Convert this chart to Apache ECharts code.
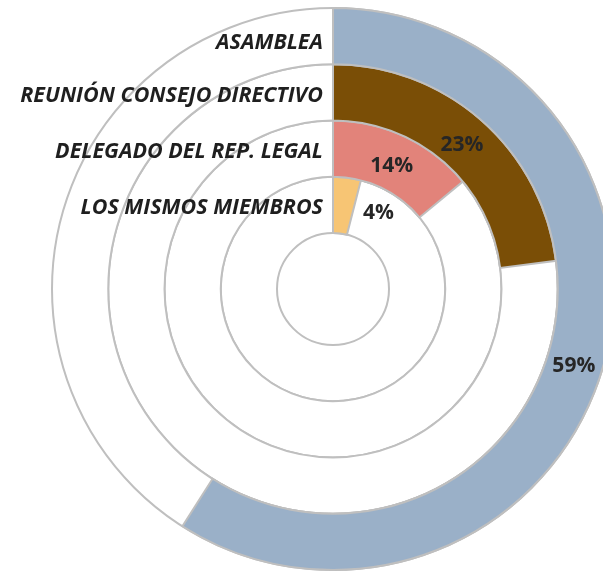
<!DOCTYPE html>
<html>
<head>
<meta charset="utf-8">
<script src="https://cdn.jsdelivr.net/npm/echarts@6/dist/echarts.min.js"></script>
<style>
  html, body { margin: 0; padding: 0; background: #fff; }
  #chart { width: 603px; height: 575px; }
</style>
</head>
<body>
<div id="chart"></div>
<script>
// rings from inside to outside
const categories = ["LOS MISMOS MIEMBROS", "DELEGADO DEL REP. LEGAL", "REUNIÓN CONSEJO DIRECTIVO", "ASAMBLEA"];
const values = [4, 14, 23, 59];
const colors = ["#F7C574", "#E2837A", "#7A4E06", "#9AB0C8"];

const chart = echarts.init(document.getElementById("chart"));

const catFont = {
    fontFamily: "'Open Sans', sans-serif",
    fontStyle: "italic",
    fontWeight: "bold",
    fontSize: 21.5,
    color: "#1f1f1f"
};

chart.setOption({
    animation: false,
    polar: { center: [333, 289], radius: [56, 281] },
    angleAxis: {
        type: "value", min: 0, max: 100, startAngle: 90, clockwise: true,
        axisLine: { show: false }, axisTick: { show: false }, axisLabel: { show: false }, splitLine: { show: false }
    },
    radiusAxis: {
        type: "category",
        data: categories,
        axisLine: { show: false },
        axisTick: { show: false },
        splitLine: { show: false },
        z: 10,
        axisLabel: {
            interval: 0,
            hideOverlap: false,
            margin: 10,
            formatter: (v, i) => i === categories.length - 1 ? `{top|${v}}` : `{std|${v}}`,
            rich: {
                std: { ...catFont, padding: [6, 0, 0, 0] },
                top: { ...catFont, padding: [14, 0, 0, 0] }
            }
        }
    },
    series: [{
        type: "bar",
        coordinateSystem: "polar",
        barCategoryGap: "0%",
        showBackground: true,
        backgroundStyle: { color: "#fff", borderColor: "#bfbfbf", borderWidth: 2 },
        data: values.map((v, i) => ({
            value: v,
            itemStyle: { color: colors[i] },
            label: i === 0 ? { offset: [35, 7] } : (i === 3 ? { offset: [-2, 6] } : {})
        })),
        itemStyle: { borderColor: "#bfbfbf", borderWidth: 2 },
        label: {
            show: true,
            position: "middle",
            rotate: 0,
            offset: [-1, 4],
            formatter: "{c}%",
            fontFamily: "'Open Sans', sans-serif",
            fontWeight: "bold",
            fontSize: 21,
            color: "#262626"
        }
    }]
});
</script>
</body>
</html>
